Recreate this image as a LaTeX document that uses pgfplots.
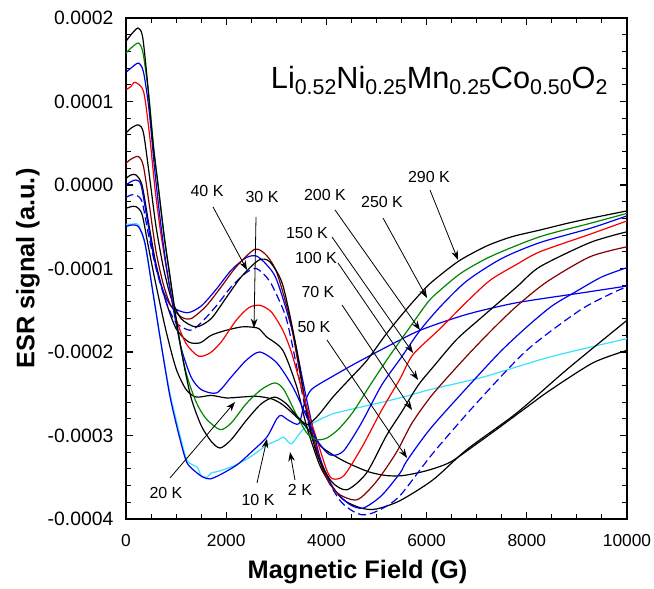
\documentclass[border=0pt]{standalone}
\usepackage{pgfplots}
\pgfplotsset{compat=1.18}
\usepackage{fontspec}
\setmainfont{Liberation Sans}
\usetikzlibrary{arrows.meta}

\definecolor{esrgreen}{RGB}{0,135,0}
\definecolor{esrblue}{RGB}{0,0,235}
\definecolor{esrred}{RGB}{245,0,0}
\definecolor{esrbrown}{RGB}{130,0,0}
\definecolor{esrcyan}{RGB}{60,225,255}

\newcommand{\sub}[1]{\raisebox{-5pt}{\fontsize{16}{18}\selectfont #1}}

\begin{document}
\begin{tikzpicture}
\begin{axis}[
  name=ax,
  scale only axis,
  width=375.75pt, height=375.75pt,
  xmin=0, xmax=10000, ymin=-4e-4, ymax=2e-4,
  xtick={0,2000,4000,6000,8000,10000},
  xticklabels={0,2000,4000,6000,8000,10000},
  ytick={-4e-4,-3e-4,-2e-4,-1e-4,0,1e-4,2e-4},
  yticklabels={-0.0004,-0.0003,-0.0002,-0.0001,0.0000,0.0001,0.0002},
  scaled y ticks=false, scaled x ticks=false,
  minor x tick num=3, minor y tick num=4,
  tick align=inside,
  major tick length=5pt, minor tick length=4pt,
  tick style={black, line width=0.8pt},
  axis line style={line width=1.1pt},
  xticklabel style={font=\fontsize{13}{15}\selectfont, yshift=-8pt},
  yticklabel style={font=\fontsize{14.5}{16}\selectfont, xshift=-6pt},
  xlabel={Magnetic Field (G)},
  ylabel={ESR signal (a.u.)},
  label style={font=\bfseries\fontsize{19}{22}\selectfont},
  xlabel style={at={(axis description cs:0.462,-0.106)}, anchor=center},
  ylabel style={at={(axis description cs:-0.196,0.5)}, anchor=center},
  every axis plot/.append style={line width=0.9pt, smooth, tension=0.45},
]

% 2 K
\addplot[esrcyan] coordinates {(0,-0.47e-4) (100,-0.47e-4) (250,-0.48e-4) (380,-0.72e-4) (540,-1.28e-4) (700,-1.9e-4) (880,-2.5e-4) (1080,-3.0e-4) (1220,-3.3e-4) (1420,-3.38e-4) (1500,-3.48e-4) (1620,-3.50e-4) (1700,-3.45e-4) (1900,-3.42e-4) (2200,-3.35e-4) (2500,-3.25e-4) (2800,-3.12e-4) (3050,-3.05e-4) (3150,-3.02e-4) (3300,-3.10e-4) (3530,-2.93e-4) (3800,-2.83e-4) (4130,-2.74e-4) (4470,-2.69e-4) (5470,-2.55e-4) (6070,-2.45e-4) (7130,-2.30e-4) (8460,-2.06e-4) (10000,-1.84e-4)};

% 10 K
\addplot[esrblue] coordinates {(0,-0.50e-4) (100,-0.48e-4) (250,-0.50e-4) (380,-0.70e-4) (540,-1.3e-4) (700,-1.9e-4) (880,-2.54e-4) (1080,-3.05e-4) (1220,-3.33e-4) (1420,-3.45e-4) (1540,-3.50e-4) (1680,-3.52e-4) (1880,-3.47e-4) (2220,-3.35e-4) (2500,-3.2e-4) (2810,-3.02e-4) (3010,-2.80e-4) (3100,-2.76e-4) (3250,-2.82e-4) (3450,-2.86e-4) (3560,-2.62e-4) (3700,-2.45e-4) (4100,-2.30e-4) (4600,-2.13e-4) (5200,-1.94e-4) (5870,-1.74e-4) (6800,-1.55e-4) (7800,-1.41e-4) (9120,-1.29e-4) (10000,-1.21e-4)};

% 20 K
\addplot[black] coordinates {(0,-0.28e-4) (100,-0.26e-4) (200,-0.26e-4) (320,-0.35e-4) (450,-0.75e-4) (600,-1.2e-4) (800,-1.75e-4) (1000,-2.2e-4) (1200,-2.45e-4) (1400,-2.54e-4) (1700,-2.52e-4) (2000,-2.55e-4) (2300,-2.54e-4) (2600,-2.53e-4) (2900,-2.56e-4) (3100,-2.62e-4) (3300,-2.72e-4) (3600,-2.9e-4) (3870,-3.12e-4) (4210,-3.26e-4) (4500,-3.35e-4) (4870,-3.44e-4) (5200,-3.48e-4) (5530,-3.48e-4) (6010,-3.42e-4) (6470,-3.32e-4) (7000,-3.10e-4) (7460,-2.90e-4) (8000,-2.66e-4) (8460,-2.46e-4) (9320,-2.13e-4) (10000,-1.98e-4)};

% 30 K
\addplot[black] coordinates {(0,0.08e-4) (100,0.12e-4) (200,0.12e-4) (320,0.0) (450,-0.45e-4) (600,-0.95e-4) (800,-1.4e-4) (1000,-1.72e-4) (1250,-1.88e-4) (1480,-1.89e-4) (1700,-1.8e-4) (2000,-1.74e-4) (2300,-1.70e-4) (2470,-1.70e-4) (2650,-1.72e-4) (2810,-1.82e-4) (3130,-1.98e-4) (3410,-2.42e-4) (3610,-2.9e-4) (3900,-3.4e-4) (4300,-3.75e-4) (4700,-3.87e-4) (5000,-3.88e-4) (5470,-3.78e-4) (6130,-3.53e-4) (6800,-3.17e-4) (7800,-2.73e-4) (8800,-2.21e-4) (10000,-1.62e-4)};

% 40 K
\addplot[esrblue, dash pattern=on 6pt off 3pt] coordinates {(0,-0.15e-4) (100,-0.12e-4) (200,-0.12e-4) (320,-0.2e-4) (450,-0.6e-4) (600,-1.0e-4) (800,-1.4e-4) (1000,-1.65e-4) (1280,-1.74e-4) (1500,-1.65e-4) (1800,-1.45e-4) (2100,-1.22e-4) (2400,-1.05e-4) (2600,-1.0e-4) (2800,-1.1e-4) (2930,-1.22e-4) (3200,-1.6e-4) (3450,-2.3e-4) (3700,-3.0e-4) (4000,-3.5e-4) (4300,-3.8e-4) (4600,-3.93e-4) (4800,-3.95e-4) (5100,-3.88e-4) (5470,-3.72e-4) (6130,-3.21e-4) (7000,-2.61e-4) (8000,-1.98e-4) (9060,-1.50e-4) (9720,-1.29e-4) (10000,-1.22e-4)};

% 50 K
\addplot[esrblue] coordinates {(0,0.0) (100,0.04e-4) (200,0.06e-4) (300,0.0) (420,-0.4e-4) (550,-0.85e-4) (700,-1.2e-4) (900,-1.45e-4) (1220,-1.53e-4) (1500,-1.45e-4) (1800,-1.25e-4) (2100,-1.02e-4) (2400,-0.87e-4) (2600,-0.85e-4) (2800,-0.95e-4) (3010,-1.14e-4) (3330,-1.77e-4) (3610,-2.58e-4) (3870,-3.26e-4) (4130,-3.62e-4) (4450,-3.82e-4) (4730,-3.87e-4) (5100,-3.72e-4) (5470,-3.45e-4) (5610,-3.30e-4) (6100,-2.90e-4) (7000,-2.30e-4) (7500,-1.98e-4) (8000,-1.70e-4) (8500,-1.45e-4) (9000,-1.27e-4) (9500,-1.10e-4) (10000,-0.99e-4)};

% 70 K
\addplot[esrbrown] coordinates {(0,0.26e-4) (100,0.31e-4) (250,0.34e-4) (350,0.22e-4) (480,-0.3e-4) (600,-0.8e-4) (750,-1.2e-4) (900,-1.45e-4) (1100,-1.58e-4) (1300,-1.6e-4) (1600,-1.45e-4) (1900,-1.22e-4) (2200,-0.98e-4) (2570,-0.77e-4) (2800,-0.84e-4) (3010,-1.05e-4) (3270,-1.6e-4) (3470,-2.25e-4) (3670,-2.85e-4) (3930,-3.41e-4) (4200,-3.68e-4) (4610,-3.77e-4) (5000,-3.55e-4) (5400,-3.2e-4) (5710,-2.85e-4) (6130,-2.5e-4) (6800,-2.05e-4) (7330,-1.72e-4) (7800,-1.45e-4) (8400,-1.16e-4) (9260,-0.86e-4) (10000,-0.74e-4)};

% 100 K
\addplot[black] coordinates {(0,0.62e-4) (100,0.68e-4) (250,0.72e-4) (350,0.62e-4) (480,0.05e-4) (600,-0.5e-4) (750,-1.0e-4) (900,-1.35e-4) (1100,-1.6e-4) (1400,-1.70e-4) (1700,-1.6e-4) (2000,-1.35e-4) (2300,-1.1e-4) (2650,-0.90e-4) (2870,-0.92e-4) (3130,-1.2e-4) (3410,-1.98e-4) (3610,-2.73e-4) (3810,-3.22e-4) (4100,-3.55e-4) (4410,-3.65e-4) (4800,-3.45e-4) (5200,-3.0e-4) (5500,-2.72e-4) (5830,-2.40e-4) (6130,-2.18e-4) (6600,-1.85e-4) (7070,-1.60e-4) (7800,-1.22e-4) (8260,-0.98e-4) (9260,-0.69e-4) (10000,-0.56e-4)};

% 150 K
\addplot[esrred] coordinates {(0,1.14e-4) (100,1.18e-4) (180,1.23e-4) (350,1.12e-4) (470,0.6e-4) (580,-0.05e-4) (700,-0.6e-4) (850,-1.15e-4) (1000,-1.6e-4) (1200,-1.9e-4) (1450,-2.05e-4) (1680,-2.01e-4) (1900,-1.88e-4) (2200,-1.62e-4) (2450,-1.47e-4) (2670,-1.44e-4) (2900,-1.52e-4) (3130,-1.74e-4) (3300,-2.0e-4) (3470,-2.36e-4) (3650,-2.75e-4) (3810,-3.05e-4) (4010,-3.42e-4) (4130,-3.52e-4) (4350,-3.48e-4) (4700,-3.15e-4) (5100,-2.7e-4) (5470,-2.32e-4) (5730,-2.03e-4) (6270,-1.72e-4) (6800,-1.40e-4) (7270,-1.14e-4) (7800,-0.95e-4) (8260,-0.80e-4) (9260,-0.59e-4) (10000,-0.43e-4)};

% 200 K
\addplot[esrblue] coordinates {(0,1.35e-4) (100,1.40e-4) (250,1.46e-4) (350,1.35e-4) (460,0.9e-4) (570,0.2e-4) (680,-0.4e-4) (800,-0.95e-4) (950,-1.5e-4) (1100,-1.95e-4) (1300,-2.3e-4) (1500,-2.45e-4) (1810,-2.49e-4) (2100,-2.3e-4) (2400,-2.1e-4) (2670,-2.0e-4) (3010,-2.13e-4) (3330,-2.42e-4) (3610,-2.78e-4) (3810,-3.05e-4) (4000,-3.2e-4) (4130,-3.24e-4) (4350,-3.18e-4) (4700,-2.85e-4) (5100,-2.4e-4) (5500,-2.06e-4) (5870,-1.74e-4) (6270,-1.46e-4) (6800,-1.15e-4) (7500,-0.88e-4) (8260,-0.69e-4) (9260,-0.52e-4) (10000,-0.37e-4)};

% 250 K
\addplot[esrgreen] coordinates {(0,1.58e-4) (100,1.64e-4) (250,1.70e-4) (340,1.58e-4) (450,1.1e-4) (560,0.4e-4) (660,-0.1e-4) (780,-0.7e-4) (900,-1.2e-4) (1050,-1.8e-4) (1200,-2.25e-4) (1400,-2.6e-4) (1600,-2.8e-4) (1880,-2.93e-4) (2100,-2.85e-4) (2400,-2.62e-4) (2700,-2.45e-4) (2970,-2.37e-4) (3150,-2.45e-4) (3400,-2.75e-4) (3610,-2.97e-4) (3800,-3.05e-4) (4010,-3.03e-4) (4250,-2.92e-4) (4530,-2.72e-4) (4870,-2.40e-4) (5200,-2.1e-4) (5670,-1.70e-4) (6030,-1.40e-4) (6270,-1.26e-4) (6700,-1.05e-4) (7300,-0.85e-4) (8260,-0.62e-4) (9260,-0.46e-4) (10000,-0.34e-4)};

% 290 K
\addplot[black] coordinates {(0,1.72e-4) (100,1.80e-4) (240,1.88e-4) (330,1.78e-4) (420,1.29e-4) (540,0.50e-4) (640,0.0) (760,-0.6e-4) (880,-1.1e-4) (1000,-1.6e-4) (1140,-2.1e-4) (1300,-2.55e-4) (1500,-2.88e-4) (1700,-3.07e-4) (1880,-3.15e-4) (2100,-3.05e-4) (2400,-2.82e-4) (2700,-2.62e-4) (2970,-2.54e-4) (3200,-2.62e-4) (3400,-2.76e-4) (3620,-2.87e-4) (3850,-2.75e-4) (4130,-2.54e-4) (4470,-2.32e-4) (4810,-2.1e-4) (5200,-1.78e-4) (5610,-1.48e-4) (6000,-1.22e-4) (6270,-1.08e-4) (6670,-0.90e-4) (7200,-0.73e-4) (7700,-0.62e-4) (8260,-0.54e-4) (8800,-0.46e-4) (9260,-0.40e-4) (10000,-0.31e-4)};

% compound formula
\node[anchor=base west, font=\fontsize{23}{26}\selectfont] at (2800,1.16e-4)
  {Li\sub{0.52}Ni\sub{0.25}Mn\sub{0.25}Co\sub{0.50}O\sub{2}};

% temperature labels
\begin{scope}[every node/.style={font=\fontsize{12}{14}\selectfont, inner sep=0pt}]
\node at (1617,-0.072e-4) {40 K};
\node at (2715,-0.144e-4) {30 K};
\node at (3972,-0.120e-4) {200 K};
\node at (5110,-0.204e-4) {250 K};
\node at (6048,0.096e-4) {290 K};
\node at (3613,-0.575e-4) {150 K};
\node at (3792,-0.874e-4) {100 K};
\node at (3832,-1.281e-4) {70 K};
\node at (3752,-1.701e-4) {50 K};
\node at (798,-3.689e-4) {20 K};
\node at (2635,-3.772e-4) {10 K};
\node at (3473,-3.653e-4) {2 K};
\end{scope}

% pointers from labels to curves
\begin{scope}[black, line width=0.6pt, -{Stealth[length=7pt,width=5pt]}]
\draw (1737,-0.263e-4) -- (2415,-1.018e-4);
\draw (2595,-0.383e-4) -- (2555,-1.713e-4);
\draw (4172,-0.299e-4) -- (5868,-1.737e-4);
\draw (5130,-0.395e-4) -- (6008,-1.353e-4);
\draw (6068,-0.060e-4) -- (6627,-0.898e-4);
\draw (4112,-0.623e-4) -- (5729,-2.012e-4);
\draw (4232,-0.934e-4) -- (5829,-2.335e-4);
\draw (4312,-1.437e-4) -- (5709,-2.695e-4);
\draw (4012,-1.856e-4) -- (5609,-3.269e-4);
\draw (878,-3.509e-4) -- (2176,-2.599e-4);
\draw (2615,-3.569e-4) -- (2815,-3.040e-4);
\draw (3373,-3.533e-4) -- (3274,-3.198e-4);
\end{scope}
\end{axis}
\pgfresetboundingbox
\path[use as bounding box] ([xshift=-94.5pt,yshift=-52.5pt]ax.south west) rectangle ([xshift=20.25pt,yshift=13.5pt]ax.north east);
\end{tikzpicture}
\end{document}
